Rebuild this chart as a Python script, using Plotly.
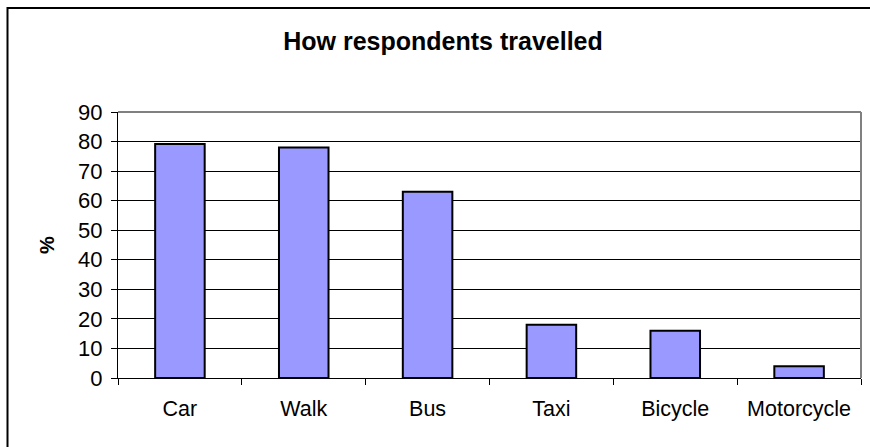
import plotly.graph_objects as go

categories = ["Car", "Walk", "Bus", "Taxi", "Bicycle", "Motorcycle"]
values = [79.2, 78, 63, 18, 16, 4]
y_ticks = [0, 10, 20, 30, 40, 50, 60, 70, 80, 90]

W, H = 870, 447
L, R, T, B = 118, 9, 112, 69
pw, ph = W - L - R, H - T - B

def px_x(p):
    return (p - L) / pw

def px_y(p):
    return (H - B - p) / ph

FONT = "Liberation Sans, Arial, sans-serif"

fig = go.Figure(go.Bar(
    x=categories, y=values,
    marker=dict(color="#9999FF", line=dict(color="#000000", width=2)),
))

fig.update_layout(
    width=W, height=H,
    margin=dict(l=L, r=R, t=T, b=B),
    paper_bgcolor="white", plot_bgcolor="white",
    bargap=0.6,
    showlegend=False,
    font=dict(family=FONT, color="#000000"),
    title=dict(text="<b>How respondents travelled</b>", x=443 / W, xanchor="center",
               y=1 - 41 / H, yanchor="middle",
               font=dict(family=FONT, size=25, color="#000000")),
    xaxis=dict(
        type="category", tickson="boundaries", ticks="outside", ticklen=6,
        tickcolor="#000000", tickwidth=1,
        showgrid=False, showline=True, linecolor="#000000", linewidth=1,
        tickfont=dict(size=21.5, family=FONT, color="#000000"),
        ticklabelstandoff=11,
    ),
    yaxis=dict(
        range=[0, 90], tickvals=y_ticks, ticktext=[str(v) for v in y_ticks],
        ticks="outside", ticklen=6, tickcolor="#000000", tickwidth=1,
        showgrid=True, gridcolor="#000000", gridwidth=1,
        showline=True, linecolor="#000000", linewidth=1,
        zeroline=False,
        tickfont=dict(size=22, family=FONT, color="#000000"),
        ticklabelstandoff=4,
        title=dict(text="<b>%</b>", font=dict(size=20, family=FONT, color="#000000"), standoff=18),
    ),
    shapes=[
        # grey plot-area top and right border
        dict(type="line", xref="paper", yref="paper", x0=0, x1=1, y0=1, y1=1,
             line=dict(color="#808080", width=2)),
        dict(type="line", xref="paper", yref="paper", x0=1, x1=1, y0=0, y1=1,
             line=dict(color="#808080", width=2)),
        # outer chart border (cropped at right/bottom)
        dict(type="rect", xref="paper", yref="paper",
             x0=px_x(7.5), x1=px_x(880), y0=px_y(460), y1=px_y(8),
             line=dict(color="#000000", width=2), layer="above"),
    ],
)

fig.write_html("out.html")
